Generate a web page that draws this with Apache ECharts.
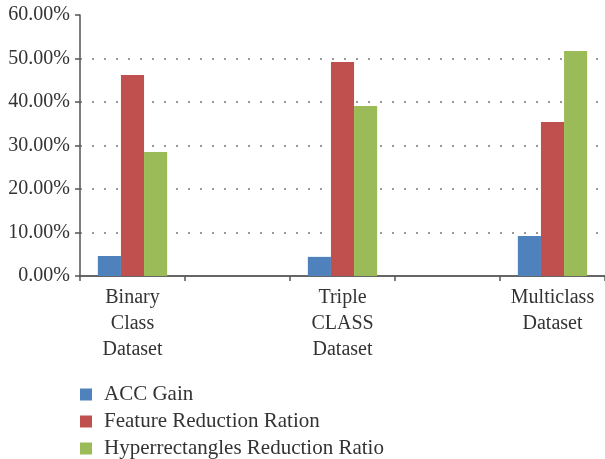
<!DOCTYPE html>
<html>
<head>
<meta charset="utf-8">
<script src="https://cdn.jsdelivr.net/npm/echarts@6/dist/echarts.min.js"></script>
<style>
  html, body { margin: 0; padding: 0; background: #fff; overflow: hidden; }
  #chart { width: 605px; height: 459px; }
</style>
</head>
<body>
<div id="chart"></div>
<script>
// Dataset categories (blank slots keep the groups spaced apart)
const categories = ['Binary\nClass\nDataset', '', 'Triple\nCLASS\nDataset', '', 'Multiclass\nDataset'];
const seriesNames = ['ACC Gain', 'Feature Reduction Ration', 'Hyperrectangles Reduction Ratio'];
// Values in percent
const accGain = [4.6, null, 4.4, null, 9.2];
const featureReduction = [46.2, null, 49.2, null, 35.4];
const hyperReduction = [28.5, null, 39.1, null, 51.7];
const yTicks = [0, 10, 20, 30, 40, 50, 60];

const colors = ['#4F81BD', '#C0504D', '#9BBB59'];
const font = '"Liberation Serif", "Times New Roman", serif';
const textColor = '#333';

const chart = echarts.init(document.getElementById('chart'), null, { renderer: 'canvas' });

const seriesData = [accGain, featureReduction, hyperReduction];

chart.setOption({
  animation: false,
  color: colors,
  grid: { left: 80, right: -6, top: 15, bottom: 183, containLabel: false },
  legend: {
    orient: 'vertical',
    left: 80,
    top: 384,
    height: 80,
    itemWidth: 12,
    itemHeight: 12,
    itemGap: 6,
    padding: 0,
    icon: 'rect',
    data: seriesNames,
    textStyle: { fontFamily: font, fontSize: 21, lineHeight: 20, color: textColor, padding: [0, 0, 0, 7] }
  },
  xAxis: {
    type: 'category',
    data: categories,
    axisLine: { lineStyle: { color: '#666', width: 2 } },
    axisTick: { show: true, length: 5, alignWithLabel: false, lineStyle: { color: '#555', width: 1.5 } },
    axisLabel: {
      interval: 0,
      margin: 9,
      fontFamily: font,
      fontSize: 20,
      lineHeight: 26,
      color: textColor
    },
    splitLine: { show: false }
  },
  yAxis: {
    type: 'value',
    min: yTicks[0],
    max: yTicks[yTicks.length - 1],
    interval: 10,
    axisLine: { show: true, lineStyle: { color: '#555', width: 1.5 } },
    axisTick: { show: true, length: 5, lineStyle: { color: '#555', width: 1.5 } },
    axisLabel: {
      margin: 10,
      fontFamily: font,
      fontSize: 20,
      color: textColor,
      formatter: v => v.toFixed(2) + '%'
    },
    splitLine: {
      show: true,
      showMinLine: false,
      showMaxLine: false,
      lineStyle: { color: '#999', width: 2, type: [2, 10] }
    }
  },
  series: seriesNames.map((name, i) => ({
    name,
    type: 'bar',
    data: seriesData[i],
    barGap: '0%',
    barCategoryGap: '34%'
  }))
});
</script>
</body>
</html>
